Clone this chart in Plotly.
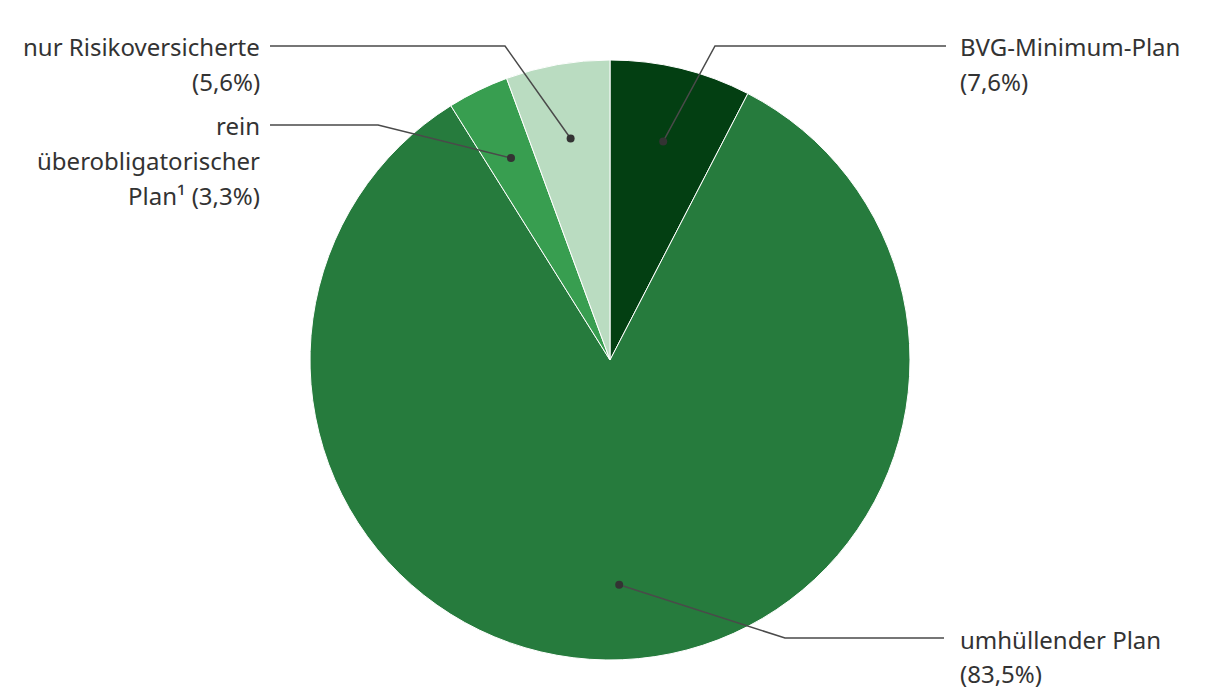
import math
import plotly.graph_objects as go

# Data
categories = ["BVG-Minimum-Plan", "umhüllender Plan", "rein überobligatorischer Plan¹", "nur Risikoversicherte"]
values = [7.6, 83.5, 3.3, 5.6]
colors = ["#033f12", "#267b3d", "#389e50", "#badcc1"]
label_lines = [
    ["BVG-Minimum-Plan", "(7,6%)"],
    ["umhüllender Plan", "(83,5%)"],
    ["rein", "überobligatorischer", "Plan¹ (3,3%)"],
    ["nur Risikoversicherte", "(5,6%)"],
]

# Layout constants (page pixels; figure is offset by the page margin)
OFF = 8
W, H = 1220, 700
MT, MB, ML, MR = 52, 48, 0, 16
CX, CY, R = 610, 360, 300
PW = W - ML - MR
PH = H - MT - MB
# label anchor: (elbow x, line y, line end x, text x, side)
label_layout = [
    (715, 46, 946, 958, "left"),
    (785, 638, 944, 958, "left"),
    (378, 125, 270, 262, "right"),
    (505, 46, 270, 262, "right"),
]
LINE_H = 34.5

def px(x):
    return (x - OFF - ML) / PW

def py(y):
    return 1 - (y - OFF - MT) / PH

fig = go.Figure(go.Pie(
    labels=categories, values=values, sort=False, direction="clockwise", rotation=0,
    marker=dict(colors=colors, line=dict(color="white", width=1)),
    textinfo="none", hoverinfo="label+percent", showlegend=False,
    domain=dict(x=[0, 1], y=[0, 1]),
))

shapes, annotations = [], []
total = sum(values)
cum = 0
for v, lines, (ex, ly, lx, tx, side) in zip(values, label_lines, label_layout):
    ang = math.radians((cum + v / 2) / total * 360)
    cum += v
    dx = CX + 0.75 * R * math.sin(ang)
    dy = CY - 0.75 * R * math.cos(ang)
    shapes.append(dict(type="path", xref="paper", yref="paper",
                       path=f"M {px(dx)} {py(dy)} L {px(ex)} {py(ly)} L {px(lx)} {py(ly)}",
                       line=dict(color="#4a4a4a", width=1.5)))
    shapes.append(dict(type="circle", xref="paper", yref="paper", xsizemode="pixel", ysizemode="pixel",
                       xanchor=px(dx), yanchor=py(dy), x0=-4, x1=4, y0=-4, y1=4,
                       fillcolor="#333333", line=dict(width=0)))
    for i, t in enumerate(lines):
        annotations.append(dict(xref="paper", yref="paper", x=px(tx), y=py(ly + 1 + i * LINE_H),
                                text=t, showarrow=False, xanchor="left" if side == "left" else "right",
                                yanchor="middle", font=dict(family="Noto Sans", size=24, color="#333333")))

fig.update_layout(
    width=W, height=H, margin=dict(l=ML, r=MR, t=MT, b=MB),
    paper_bgcolor="white", plot_bgcolor="white",
    shapes=shapes, annotations=annotations,
    font=dict(family="Noto Sans", size=24, color="#333333"),
)
fig.write_html("out.html")
